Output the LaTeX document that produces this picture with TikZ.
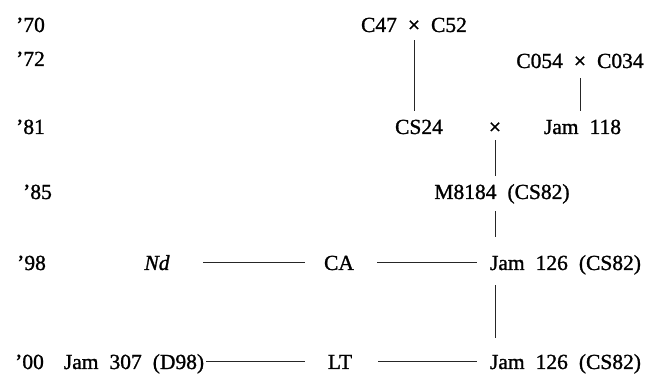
\documentclass[tikz,border=0pt]{standalone}
\usepackage{fontspec}
\setmainfont{Liberation Serif}
\newfontfamily\rowfam[FakeBold=1.2]{Liberation Serif}
\newcommand\rowfont{\rowfam\fontsize{21.5}{25}\selectfont\spaceskip=11pt\relax}
\begin{document}
\begin{tikzpicture}[x=1pt,y=-1pt,
  lbl/.style={inner sep=0pt, text height=16pt, text depth=0pt, font=\rowfont, anchor=base},
  yr/.style={lbl, anchor=base west},
  ln/.style={line width=0.8pt, draw=black!85}]
\useasboundingbox (0,0) rectangle (662,374);
% year labels
\node[yr] (y70) at (16,32) {’70};
\node[yr] (y72) at (16,66) {’72};
\node[yr] (y81) at (16,134) {’81};
\node[yr] (y85) at (23,199) {’85};
\node[yr] (y98) at (17,270) {’98};
\node[yr] (y00) at (15,369) {’00};
% pedigree
\node[lbl, minimum width=108pt] (p70) at (414,32) {C47 × C52};
\node[lbl, minimum width=130pt] (p72) at (580,68) {C054 × C034};
\node[lbl, minimum width=50pt] (cs24) at (419,134) {CS24};
\node[lbl] (x81) at (495,134) {×};
\node[lbl, minimum width=79pt] (j118) at (582.5,134) {Jam 118};
\node[lbl, minimum width=136pt] (m85) at (502,199) {M8184 (CS82)};
\node[lbl, minimum width=30pt] (nd) at (157,270) {\textit{Nd}};
\node[lbl, minimum width=32pt] (ca) at (339,270) {CA};
\node[lbl, minimum width=155pt] (j98) at (565.5,270) {Jam 126 (CS82)};
\node[lbl, minimum width=142pt] (j307) at (134,369) {Jam 307 (D98)};
\node[lbl, minimum width=30pt] (lt) at (340,369) {LT};
\node[lbl, minimum width=155pt] (j00) at (565.5,369) {Jam 126 (CS82)};
% horizontal connectors
\draw[ln, shorten <=31pt, shorten >=18pt] (nd.east) -- (ca.west);
\draw[ln, shorten <=22pt, shorten >=11pt] (ca.east) -- (j98.west);
\draw[ln, shorten <=1pt, shorten >=20pt] (j307.east) -- (lt.west);
\draw[ln, shorten <=23pt, shorten >=11pt] (lt.east) -- (j00.west);
% vertical connectors
\draw[ln, shorten <=8pt, shorten >=7pt] (p70.south) -- (p70.south |- cs24.north);
\draw[ln, shorten <=10pt, shorten >=7pt] (p72.south) -- (p72.south |- j118.north);
\draw[ln, shorten <=6pt, shorten >=7pt] (x81.south) -- (x81.south |- m85.north);
\draw[ln, shorten <=12pt, shorten >=17pt] (x81 |- m85.south) -- (x81 |- j98.north);
\draw[ln, shorten <=15pt, shorten >=15pt] (x81 |- j98.south) -- (x81 |- j00.north);
\end{tikzpicture}
\end{document}
